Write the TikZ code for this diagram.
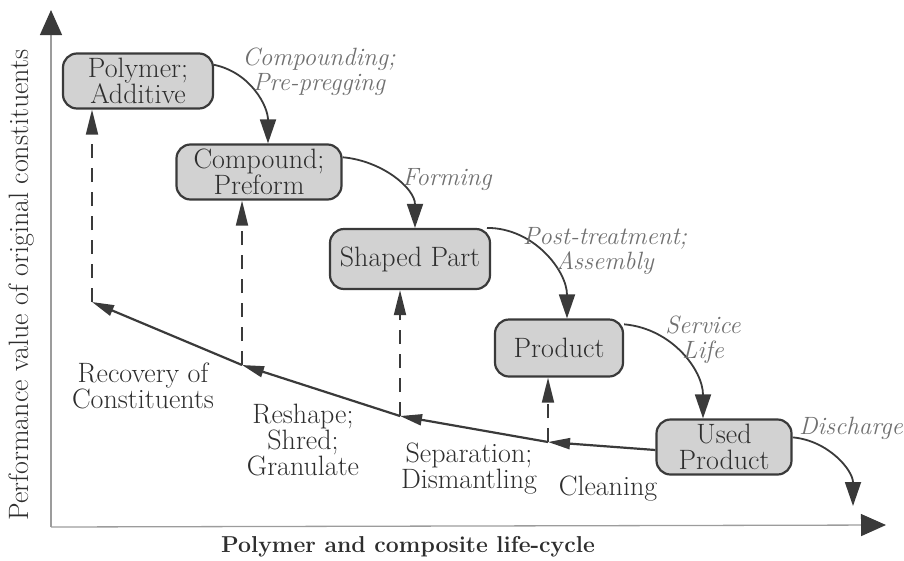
\documentclass[tikz,border=0pt]{standalone}
\usepackage{fontspec}
\definecolor{boxgray}{HTML}{D2D2D2}
\definecolor{edge}{HTML}{3A3A3A}
\definecolor{ink}{HTML}{2E2E2E}
\definecolor{actgray}{HTML}{707070}
\definecolor{axisgray}{HTML}{9C9C9C}
\usepackage{tikz}
\usetikzlibrary{arrows.meta, positioning}
\tikzset{
  box/.style={draw=edge, fill=boxgray, rounded corners=14pt, line width=2.2pt, align=center,
              font=\fontsize{28}{23.5}\selectfont, text=ink, inner sep=2pt},
  flow/.style={-{Triangle[length=24pt,width=16pt]}, line width=1.8pt, color=edge},
  back/.style={-{Triangle[length=22pt,width=11pt]}, line width=2.2pt, color=edge},
  recov/.style={-{Triangle[length=25pt,width=12pt]}, line width=1.8pt, color=edge, dash pattern=on 14pt off 10pt},
  act/.style={font=\fontsize{25}{25}\selectfont\itshape, text=actgray, align=center},
  stage/.style={font=\fontsize{28}{22.5}\selectfont, text=ink, align=center, inner sep=1pt},
}
\begin{document}
\begin{tikzpicture}[x=1pt,y=1pt]
\useasboundingbox (0,0) rectangle (904,-560);
\coordinate (o) at (51,-527);
\coordinate (ytip) at (51,-10);
\coordinate (xtip) at (886,-525);
\draw[axisgray,line width=1.3pt,-{Triangle[length=25pt,width=22pt,color=edge]}] (o)--(ytip);
\draw[axisgray,line width=1.3pt,-{Triangle[length=25pt,width=22pt,color=edge]}] (o)--(xtip);
\node[rotate=90,font=\fontsize{28}{28}\selectfont,text=ink] (ylab) at (22,-285) {Performance value of original constituents};
\node[font=\fontsize{23}{23}\selectfont\bfseries,text=ink] (xlab) at (408,-547) {Polymer and composite life-cycle};
\node[box,minimum width=150pt,minimum height=55pt] (poly) at (138,-81) {Polymer;\\Additive};
\node[box,minimum width=165pt,minimum height=55pt] (comp) at (259,-172) {Compound;\\Preform};
\node[box,minimum width=160pt,minimum height=60pt] (shaped) at (410,-259) {Shaped Part};
\node[box,minimum width=128pt,minimum height=57pt] (prod) at (559,-348) {Product};
\node[box,minimum width=135pt,minimum height=55pt] (used) at (724,-447) {Used\\[2pt]Product};
\coordinate (dis) at (853,-506);
\draw[flow] (poly.12) to[out=-12,in=90] ([xshift=9pt]comp.north);
\draw[flow] (comp.10) to[out=-5,in=90] ([xshift=5pt]shaped.north);
\draw[flow] (shaped.22) to[out=0,in=90] ([xshift=8pt]prod.north);
\draw[flow] (prod.20) to[out=-5,in=90] ([xshift=-21pt]used.north);
\draw[flow] (used.8) to[out=-5,in=90] (dis);
\node[act] (acomp) at (319,-72) {Compounding;\\Pre-pregging};
\node[act] (aform) at (447,-180) {Forming};
\node[act] (apost) at (605,-251) {Post-treatment;\\Assembly};
\node[act] (aserv) at (703,-340) {Service\\Life};
\node[act] (adis) at (851,-428) {Discharge};
\coordinate (j1) at (92,-302);
\coordinate (j2) at (242,-365);
\coordinate (j3) at (400,-416);
\coordinate (j4) at (548,-442);
\draw[back] ([yshift=-3pt]used.west) -- (j4);
\draw[back] (j4) -- (j3);
\draw[back] (j3) -- (j2);
\draw[back] (j2) -- (j1);
\draw[recov] (j1) -- (j1 |- poly.south);
\draw[recov] (j2) -- (j2 |- comp.south);
\draw[recov] (j3) -- (j3 |- shaped.south);
\draw[recov] (j4) -- (j4 |- prod.south);
\node[stage] (srec) at (143,-386) {Recovery of\\Constituents};
\node[stage] (sresh) at (303,-440) {Reshape;\\Shred;\\Granulate};
\node[stage] (ssep) at (469,-469) {Separation;\\Dismantling};
\node[stage] (sclean) at (608,-489) {Cleaning};
\end{tikzpicture}
\end{document}
